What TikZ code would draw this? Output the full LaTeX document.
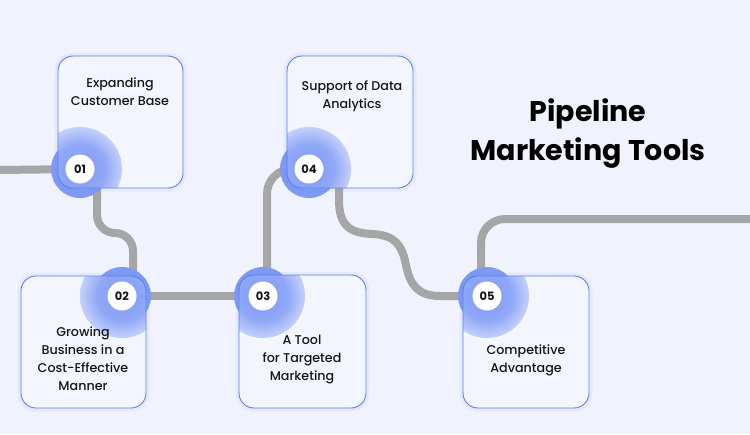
\documentclass[tikz,border=0pt]{standalone}
\usepackage{fontspec}
\setmainfont{Poppins}
\newfontfamily\medfont{Poppins Medium}
\usetikzlibrary{calc}
\definecolor{bg}{HTML}{F0F2FD}
\definecolor{boxfill}{HTML}{F4F6FF}
\definecolor{boxline}{HTML}{5A7FEA}
\definecolor{halo}{HTML}{7E9AF5}
\definecolor{pipe}{HTML}{A6A6A6}
\definecolor{ink}{HTML}{151515}
\pgfdeclareradialshading{glowshade}{\pgfpoint{0bp}{0bp}}{color(0bp)=(halo); color(15bp)=(halo!85!boxfill); color(24bp)=(halo!45!boxfill); color(32bp)=(halo!15!boxfill); color(40bp)=(boxfill); color(50bp)=(boxfill)}
\tikzset{
  pipeline/.style={draw=pipe, line width=8pt},
  cardshadow/.style={draw=boxline, draw opacity=0.07, line width=7pt, rounded corners=15pt},
  cardfill/.style={fill=boxfill, rounded corners=15pt},
  cardborder/.style={draw=boxline, line width=0.9pt, rounded corners=15pt},
  numdot/.style={circle, fill=white, minimum size=29pt, inner sep=0pt, text=ink, font=\bfseries\fontsize{11.5}{13}\selectfont},
  cardtext/.style={align=center, text=ink, font=\medfont\fontsize{12.7}{18}\selectfont},
  titletext/.style={align=center, text=black, font=\bfseries\fontsize{28.5}{39}\selectfont},
}
\newcommand\pmcardback[3]{%
  \fill[halo] #3 circle (29);
  \draw[cardshadow] #1 rectangle #2;
  \fill[cardfill] #1 rectangle #2;
  \begin{scope}
    \clip[rounded corners=15pt] #1 rectangle #2;
    \shade[shading=glowshade] #3 circle (42);
  \end{scope}
  \draw[cardborder] #1 rectangle #2;
}
\begin{document}
\begin{tikzpicture}[x=1pt,y=-1pt]
\fill[bg] (0,0) rectangle (750,434);
\useasboundingbox (0,0) rectangle (750,434);
% named anchor points
\coordinate (c1) at (80,169);
\coordinate (c2) at (122,296);
\coordinate (c3) at (263,296);
\coordinate (c4) at (309,169);
\coordinate (c5) at (487,296);
\coordinate (pstart) at (0,170);
\coordinate (pend) at (750,219);
% pipes
\draw[pipeline] (pstart) -- (c1);
\draw[pipeline, rounded corners=18pt] (c1) -- (97,169) -- (97,233) -- (133,233) -- (133,296) -- (c2);
\draw[pipeline] (c2) -- (c3);
\draw[pipeline, rounded corners=25pt] (c3) -- (267,296) -- (267,169) -- (c4);
\draw[pipeline] (c4) -- (339,169) -- (339,200) .. controls (339,226) and (350,233) .. (372,234) .. controls (395,235) and (402,245) .. (406,265) .. controls (410,285) and (418,296) .. (440,296) -- (c5);
\draw[pipeline, rounded corners=24pt] (c5) -- (481,296) -- (481,219) -- (pend);
% cards
\pmcardback{(58,56)}{(183,188)}{(c1)}
\pmcardback{(21,276)}{(146,408)}{(c2)}
\pmcardback{(239,275)}{(366,408)}{(c3)}
\pmcardback{(287,56)}{(413,188)}{(c4)}
\pmcardback{(463,276)}{(589,408)}{(c5)}
% numbers
\node[numdot] (n1) at (c1) {01};
\node[numdot] (n2) at (c2) {02};
\node[numdot] (n3) at (c3) {03};
\node[numdot] (n4) at (c4) {04};
\node[numdot] (n5) at (c5) {05};
% texts
\node[cardtext] (t1) at (120,92) {Expanding\\Customer Base};
\node[cardtext] (t2) at (83,359) {Growing\\Business in a\\Cost-Effective\\Manner};
\node[cardtext] (t3) at (302,360) {A Tool\\for Targeted\\Marketing};
\node[cardtext] (t4) at (352,96) {Support of Data\\Analytics};
\node[cardtext] (t5) at (526,360) {Competitive\\Advantage};
\node[titletext] (title) at (588,134) {Pipeline\\Marketing Tools};
\end{tikzpicture}
\end{document}
